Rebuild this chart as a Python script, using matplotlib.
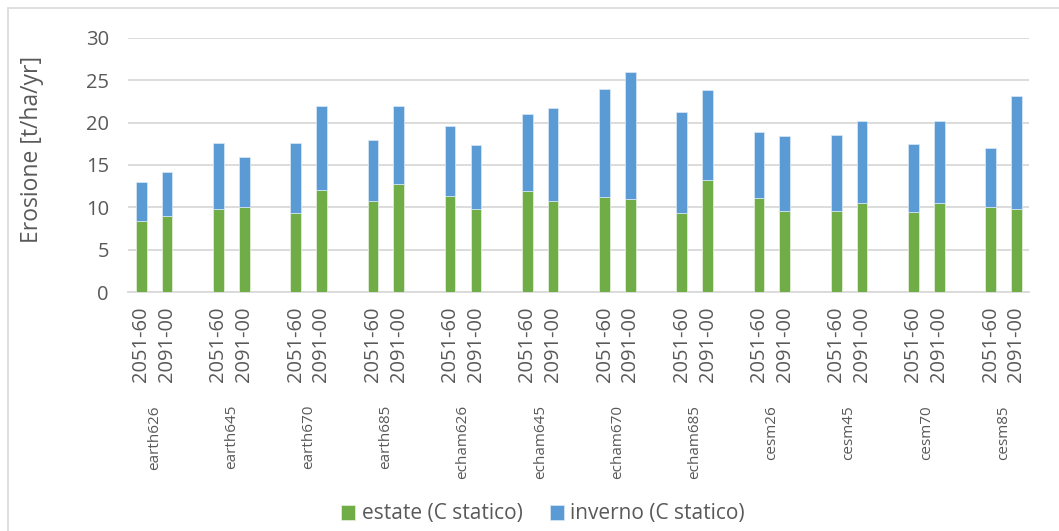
import matplotlib
matplotlib.use("Agg")
import matplotlib.pyplot as plt
from matplotlib.patches import Rectangle
from matplotlib.transforms import blended_transform_factory
import numpy as np

plt.rcParams['font.family'] = ['Open Sans', 'DejaVu Sans']

# Model scenarios and periods
groups = ["earth626", "earth645", "earth670", "earth685",
          "echam626", "echam645", "echam670", "echam685",
          "cesm26", "cesm45", "cesm70", "cesm85"]
periods = ["2051-60", "2091-00"]

# Summer erosion (static C) per scenario, for each period
estate = [8.4, 9.0, 9.8, 10.1, 9.4, 12.1, 10.7, 12.8,
          11.4, 9.8, 11.9, 10.7, 11.2, 11.0, 9.3, 13.2,
          11.1, 9.6, 9.6, 10.5, 9.5, 10.5, 10.0, 9.8]
# Total (summer + winter) erosion per scenario, for each period
totale = [13.0, 14.2, 17.6, 15.9, 17.6, 21.9, 17.9, 21.9,
          19.6, 17.4, 21.0, 21.7, 24.0, 25.9, 21.2, 23.8,
          18.9, 18.4, 18.5, 20.2, 17.5, 20.2, 17.0, 23.1]
inverno = [t - e for t, e in zip(totale, estate)]

GREEN = "#70AD47"
BLUE = "#5B9BD5"
TEXT = "#595959"
GRID = "#D9D9D9"

W, H = 1059, 531
fig = plt.figure(figsize=(W / 100, H / 100), dpi=100)
ax = fig.add_axes([128.4 / W, 1 - 292.3 / H, (1029.3 - 128.4) / W, (292.3 - 37.7) / H])

# chart area border
fig.patches.append(Rectangle((7.5 / W, -0.1), 1.2, 1.1 - 7.5 / H, transform=fig.transFigure,
                             fill=False, edgecolor="#D9D9D9", linewidth=1.2, zorder=0))

# bar positions: two bars per group, one empty slot between groups
x = np.array([3 * g + j for g in range(len(groups)) for j in range(2)], dtype=float)
bw = 0.415
ax.bar(x, estate, width=bw, color=GREEN, edgecolor="#E8F2E0", linewidth=0.5,
       label="estate (C statico)", zorder=3)
ax.bar(x, inverno, bottom=estate, width=bw, color=BLUE, edgecolor="#DCE9F6", linewidth=0.5,
       label="inverno (C statico)", zorder=3)

ax.set_xlim(-0.5, 34.5)
ax.set_ylim(0, 30)
ax.set_yticks(range(0, 31, 5))
ax.yaxis.grid(True, color=GRID, linewidth=1.3, zorder=0)
ax.set_axisbelow(True)
for s in ["top", "right", "left"]:
    ax.spines[s].set_visible(False)
ax.spines["bottom"].set_color(GRID)
ax.spines["bottom"].set_linewidth(1.3)
ax.tick_params(axis="both", length=0, colors=TEXT, labelsize=14.5)
ax.tick_params(axis="y", pad=14)

ax.set_xticks(x)
ax.set_xticklabels(periods * len(groups), rotation=90, fontsize=14.5, color=TEXT)
ax.tick_params(axis="x", pad=10)

ax.set_ylabel("Erosione [t/ha/yr]", fontsize=16.5, color=TEXT)
ax.yaxis.set_label_coords((44 - 128.4) / (1029.3 - 128.4), (292.3 - 149) / (292.3 - 37.7))

# group labels under the period labels
grp_tr = blended_transform_factory(ax.transData, fig.transFigure)
for g, name in enumerate(groups):
    ax.text(3 * g + 0.5, 1 - 405 / H, name, transform=grp_tr,
            rotation=90, ha="center", va="top", fontsize=11, color=TEXT)

fig.legend(loc="center", bbox_to_anchor=(543 / W, 1 - 514 / H), ncol=2, frameon=False,
           fontsize=15, handlelength=0.7, handleheight=0.7, handletextpad=0.3,
           columnspacing=1.3, labelcolor=TEXT)

fig.savefig("out.png", dpi=100)
